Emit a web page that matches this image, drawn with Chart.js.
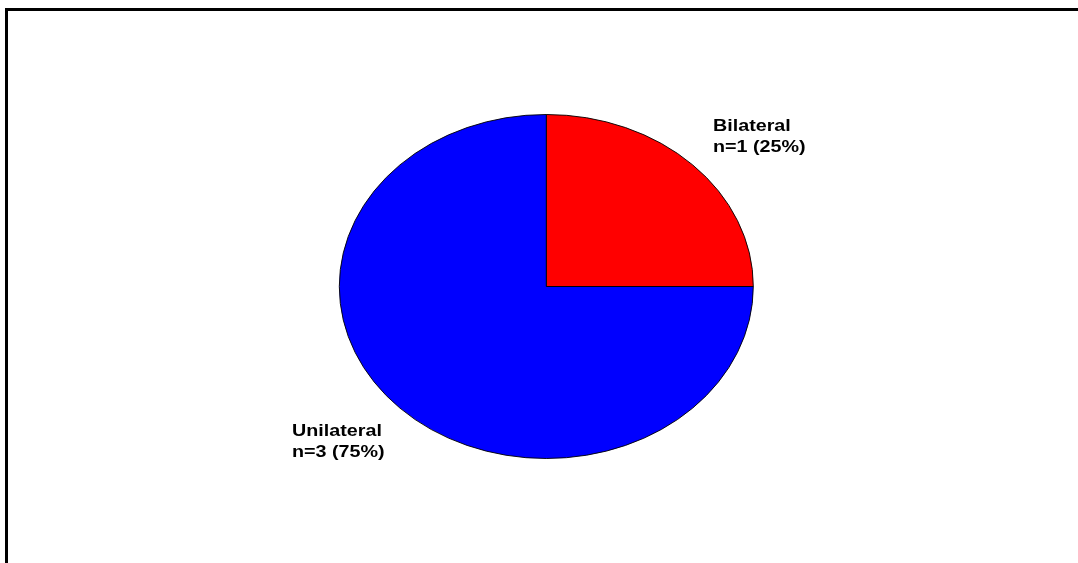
<!DOCTYPE html>
<html>
<head>
<meta charset="utf-8">
<script src="https://cdn.jsdelivr.net/npm/chart.js@4/dist/chart.umd.min.js"></script>
<style>
  html, body { margin: 0; padding: 0; background: #fff; }
  #wrap { width: 1078px; height: 563px; position: relative; }
</style>
</head>
<body>
<div id="wrap"><canvas id="pie"></canvas></div>
<script>
const groups   = ['Bilateral', 'Unilateral'];
const counts   = [1, 3];
const percents = ['25%', '75%'];
const colours  = ['#ff0000', '#0000ff'];

// pie is drawn as a circle, then squashed vertically into an ellipse
const PIE = { cx: 546.3, cy: 286.5, rx: 207, ry: 172 };

const squashPlugin = {
  id: 'squash',
  beforeDatasetsDraw(chart) {
    const ctx = chart.ctx;
    ctx.save();
    ctx.translate(PIE.cx, PIE.cy);
    ctx.scale(1, PIE.ry / PIE.rx);
    ctx.translate(-PIE.cx, -PIE.cy);
  },
  afterDatasetsDraw(chart) {
    chart.ctx.restore();
  }
};

// open frame: top and left edges only
const framePlugin = {
  id: 'frame',
  beforeDraw(chart) {
    const ctx = chart.ctx;
    ctx.save();
    ctx.strokeStyle = '#000';
    ctx.lineWidth = 3;
    ctx.beginPath();
    ctx.moveTo(6.5, 563);
    ctx.lineTo(6.5, 9.5);
    ctx.lineTo(1078, 9.5);
    ctx.stroke();
    ctx.restore();
  }
};

// two-line labels beside each slice, left aligned (text is a little wide, so stretch x)
const labelPos = [
  { x: 713, y: 126 },
  { x: 292, y: 431 },
];
const labelPlugin = {
  id: 'sliceLabels',
  afterDraw(chart) {
    const ctx = chart.ctx;
    groups.forEach((g, i) => {
      const p = labelPos[i];
      ctx.save();
      ctx.translate(p.x, p.y);
      ctx.scale(1.16, 1);
      ctx.fillStyle = '#000';
      ctx.font = 'bold 17px "Liberation Sans", Arial, sans-serif';
      ctx.textAlign = 'left';
      ctx.textBaseline = 'middle';
      ctx.fillText(g, 0, 0);
      ctx.fillText(`n=${counts[i]} (${percents[i]})`, 0, 21);
      ctx.restore();
    });
  }
};

new Chart(document.getElementById('pie'), {
  type: 'pie',
  data: {
    labels: groups,
    datasets: [{
      data: counts,
      backgroundColor: colours,
      borderColor: '#000',
      borderWidth: 1,
      borderJoinStyle: 'miter',
    }]
  },
  options: {
    responsive: true,
    maintainAspectRatio: false,
    animation: false,
    radius: PIE.rx,
    layout: { padding: { left: 2 * PIE.cx - 1078, right: 0, top: 2 * PIE.cy - 563, bottom: 0 } },
    plugins: {
      legend: { display: false },
      tooltip: { enabled: false },
    }
  },
  plugins: [framePlugin, squashPlugin, labelPlugin]
});
</script>
</body>
</html>
